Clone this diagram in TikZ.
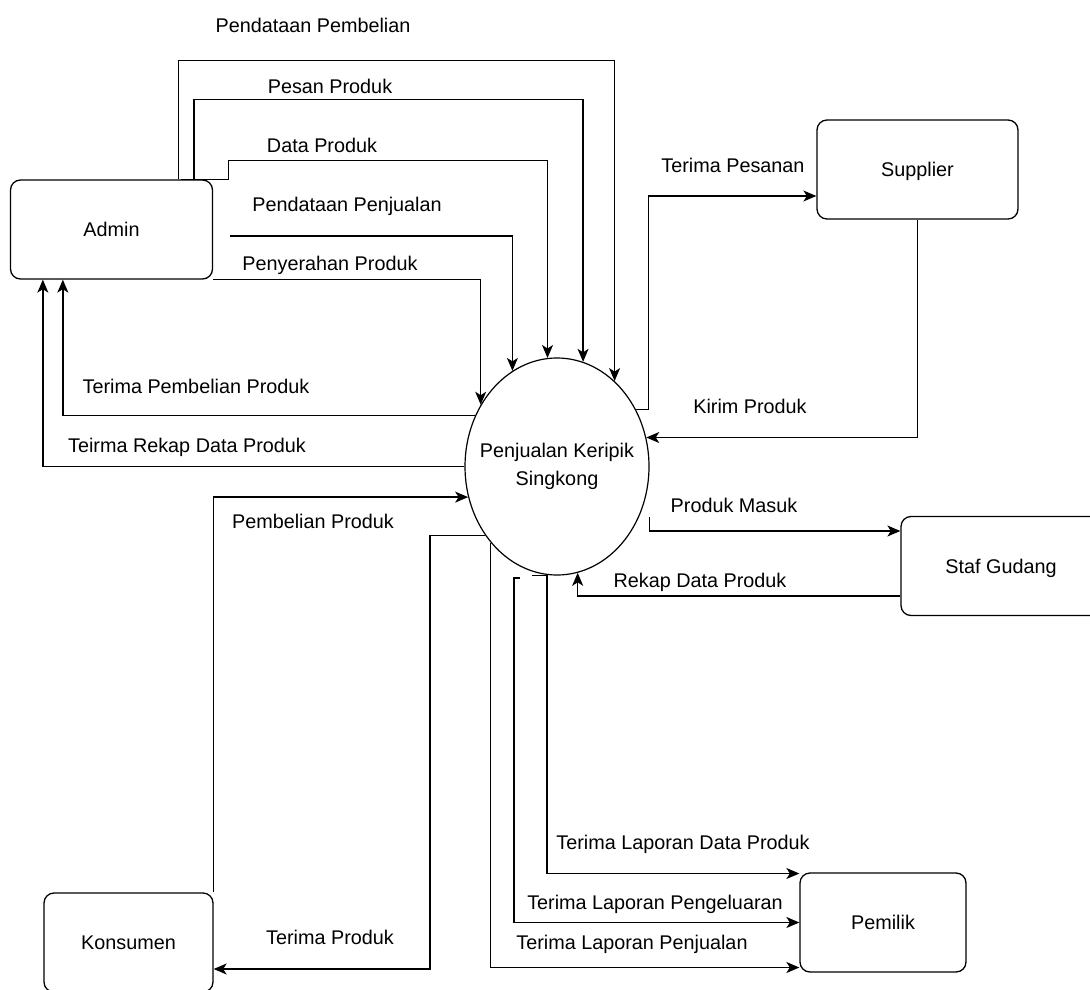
\documentclass[tikz,border=0pt]{standalone}
\usepackage{fontspec}
\setmainfont{Liberation Sans}
\usetikzlibrary{shapes.geometric,arrows.meta}

\begin{document}
\begin{tikzpicture}[x=1pt,y=-1pt,
  entitas/.style={draw,line width=1.3pt,rounded corners=10pt,minimum width=201pt,minimum height=99pt,inner sep=0pt,text height=14pt,text depth=0pt,font=\fontsize{19.8}{24}\selectfont},
  proses/.style={draw,ellipse,line width=1.2pt,minimum width=184pt,minimum height=217pt,inner xsep=-21pt,inner ysep=0pt,align=center,font=\fontsize{19.8}{28}\selectfont},
  alur/.style={draw,line width=1.3pt,-{Stealth[length=13pt,width=11pt,inset=3.5pt]}},
  teks/.style={inner sep=0pt,text height=14pt,text depth=0pt,font=\fontsize{19.8}{24}\selectfont}]

\useasboundingbox (0,0) rectangle (1090,990);

\node[entitas,minimum width=202pt] (admin) at (111.5,229.5) {Admin};
\node[entitas] (supplier) at (917.5,169.5) {Supplier};
\node[entitas,minimum width=200pt] (gudang) at (1001,566) {Staf Gudang};
\node[entitas,minimum width=166pt] (pemilik) at (883,922.5) {Pemilik};
\node[entitas,minimum width=169pt] (konsumen) at (128.5,942.5) {Konsumen};
\node[proses] (sistem) at (557,466.5) {Penjualan Keripik\\Singkong};

% admin
\draw[alur] ([xshift=168.5pt]admin.north west) -- ++(0,-119) -| (sistem.56);
\node[teks] (tPendataanPembelian) at (313,26) {Pendataan Pembelian};
\draw[alur] ([xshift=184pt]admin.north west) -- ++(0,-80) -| (sistem.76);
\node[teks] (tPesanProduk) at (330,86) {Pesan Produk};
\draw[alur] ([xshift=171pt]admin.north west) -- ++(47.5,0) -- ++(0,-19) -| (sistem.95);
\node[teks] (tDataProduk) at (322,145) {Data Produk};
\draw[alur] ([xshift=17pt,yshift=-6.5pt]admin.east) -| (sistem.115);
\node[teks] (tPendataanPenjualan) at (347,204) {Pendataan Penjualan};
\draw[alur] (admin.south east) -| (sistem.141);
\node[teks] (tPenyerahanProduk) at (330,263) {Penyerahan Produk};
\draw[alur] (sistem.148) -| ([xshift=53pt]admin.south west);
\node[teks] (tTerimaPembelian) at (196,386) {Terima Pembelian Produk};
\draw[alur] (sistem.west) -| ([xshift=33pt]admin.south west);
\node[teks] (tTeirmaRekap) at (187,445) {Teirma Rekap Data Produk};

% supplier dan gudang
\draw[alur] (sistem.36) -- ++(13,0) |- ([yshift=-26.5pt]supplier.west);
\node[teks] (tTerimaPesanan) at (733,165) {Terima Pesanan};
\draw[alur] (supplier.south) |- (sistem.18);
\node[teks] (tKirimProduk) at (750,406) {Kirim Produk};
\draw[alur] ([yshift=-50pt]sistem.east) |- ([yshift=35pt]gudang.west);
\node[teks] (tProdukMasuk) at (734,505) {Produk Masuk};
\draw[alur] ([yshift=-30pt]gudang.west) -| (sistem.-79);
\node[teks] (tRekapData) at (700,580) {Rekap Data Produk};

% konsumen
\draw[alur] (konsumen.north east) |- (sistem.199);
\node[teks] (tPembelianProduk) at (313,521) {Pembelian Produk};
\draw[alur] (sistem.224) -| (430,969) -- ([yshift=-26.5pt]konsumen.east);
\node[teks] (tTerimaProduk) at (330,937) {Terima Produk};

% pemilik
\draw[alur] ([xshift=-25pt]sistem.south) -- ++(15,0) |- ([yshift=49pt]pemilik.west);
\node[teks] (tLapDataProduk) at (683,842) {Terima Laporan Data Produk};
\draw[alur] ([xshift=-37pt,yshift=-2.5pt]sistem.south) -- ++(-6,0) |- (pemilik.west);
\node[teks] (tLapPengeluaran) at (655,902) {Terima Laporan Pengeluaran};
\draw[alur] (sistem.229) |- ([yshift=-45pt]pemilik.west);
\node[teks] (tLapPenjualan) at (632,942) {Terima Laporan Penjualan};
\end{tikzpicture}
\end{document}
